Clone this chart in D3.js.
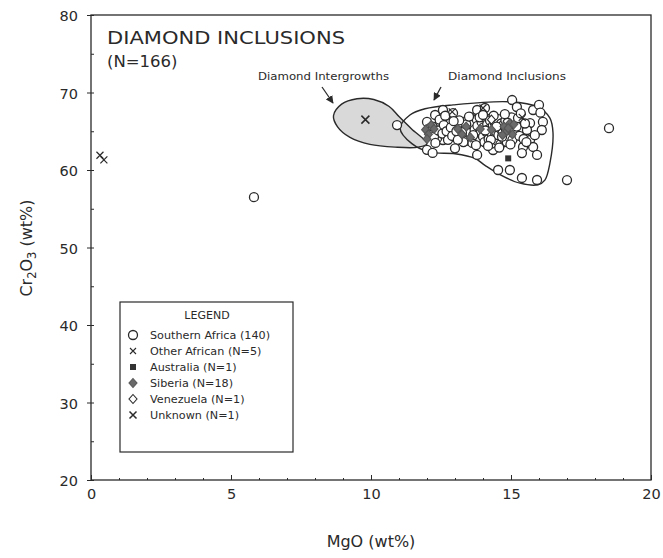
<!DOCTYPE html>
<html><head><meta charset="utf-8">
<script src="https://cdn.jsdelivr.net/npm/d3@7"></script>
<style>body{margin:0;background:#fff}svg{display:block}text{font-family:"DejaVu Sans",sans-serif;fill:#2a2a2a}</style>
</head><body><svg id="c" width="663" height="558"></svg>
<script>
const xTicks=[0,5,10,15,20];
const yTicks=[20,30,40,50,60,70,80];
const southernAfrica=[[5.82,56.5],[18.5,65.4],[17.0,58.7],
[12.29,67.1],[12.57,67.74],[12.93,67.35],[12.82,66.06],[12.46,66.06],[12.36,64.26],[12.57,63.87],[13.0,64.26],[13.54,66.84],[13.79,67.74],[14.07,68.0],[15.04,69.03],[15.21,68.13],[15.79,67.74],[16.14,66.2],[16.1,65.16],[15.68,66.06],[15.57,65.16],[15.68,63.87],[15.43,62.97],[15.79,62.97],[15.39,62.19],[15.93,61.94],[14.36,62.58],[13.79,61.94],[14.54,60.0],[14.96,60.0],[15.39,58.97],[15.93,58.71],[10.93,65.8],[12.0,66.2],[12.1,65.4],[12.36,64.1],[12.0,62.6],[16.0,68.4],
[13.2,65.8],[13.3,65.1],[13.35,64.4],[13.4,66.3],[13.45,63.8],[13.5,65.5],[13.55,64.8],[13.6,66.0],[13.62,63.5],[13.7,65.2],[13.72,64.1],[13.78,66.5],[13.8,65.7],[13.85,64.6],[13.9,63.9],[13.92,65.0],[13.95,66.2],[14.0,64.3],[14.02,65.5],[14.05,63.6],[14.1,66.7],[14.12,64.9],[14.15,65.9],[14.2,64.0],[14.22,65.3],[14.25,66.4],[14.3,63.4],[14.32,64.6],[14.35,65.7],[14.4,64.2],[14.42,66.1],[14.45,65.0],[14.5,63.8],[14.52,66.6],[14.55,64.5],[14.6,65.4],[14.62,63.3],[14.65,66.0],[14.7,64.8],[14.72,65.8],[14.75,64.0],[14.8,66.4],[14.82,65.2],[14.85,63.6],[14.9,64.6],[14.92,65.9],[14.95,64.2],[15.0,65.4],[15.02,66.8],[15.05,63.9],[13.25,64.9],[13.4,65.9],[13.65,64.5],[13.88,66.8],[14.08,65.1],[14.28,63.9],[14.48,65.6],[14.68,64.3],[14.88,66.1],[15.08,64.9],[13.15,66.4],[13.3,63.6],[13.5,66.9],[13.75,63.2],[14.0,67.1],[14.18,63.1],[14.38,67.0],[14.58,62.9],[14.78,67.2],[14.98,63.3],
[12.1,64.9],[12.2,65.6],[12.25,64.3],[12.4,65.1],[12.45,66.5],[12.55,64.7],[12.6,65.8],[12.7,65.0],[12.75,63.9],[12.85,65.5],[12.9,64.4],[12.95,66.3],[13.05,65.0],[13.1,63.9],[12.3,63.5],[12.65,67.0],
[15.2,65.6],[15.3,64.4],[15.25,66.7],[15.45,64.0],[15.35,67.3],[15.5,66.0],[15.55,63.6],[16.05,67.4],[15.85,64.5],[13.0,62.8],[12.2,62.2]];
const otherAfrican=[[0.32,61.9],[0.46,61.3],[14.0,68.0],[12.9,67.5],[15.4,66.8]];
const australia=[[14.9,61.5]];
const siberia=[[11.95,65.2],[12.05,64.6],[12.15,65.8],[12.0,64.0],[12.25,65.3],[13.1,65.3],[13.25,64.6],[13.4,65.6],[13.55,64.2],[14.75,65.6],[14.85,65.0],[14.95,66.0],[15.05,64.6],[14.9,65.4],[15.1,65.9],[14.7,64.5],[13.9,65.3],[14.3,65.2]];
const venezuela=[[14.3,66.5]];
const unknown=[[9.8,66.5]];
const intergrowthField=[[8.66,67.0],[8.95,68.5],[9.5,69.2],[10.1,69.1],[10.65,68.2],[11.0,66.9],[11.45,65.3],[12.0,63.4],[11.7,62.95],[10.86,62.95],[9.96,63.3],[9.25,64.2],[8.8,65.6]];
const inclusionField=[[11.04,65.4],[11.39,67.1],[11.93,67.9],[12.93,68.4],[14.96,68.8],[15.96,68.1],[16.39,66.7],[16.5,64.8],[16.39,60.9],[16.21,58.7],[15.96,58.1],[15.32,58.3],[14.71,59.2],[14.07,60.6],[13.71,61.5],[13.0,62.1],[12.11,62.3],[11.46,63.4]];
const legendItems=["Southern Africa (140)","Other African (N=5)","Australia (N=1)","Siberia (N=18)","Venezuela (N=1)","Unknown (N=1)"];

const svg=d3.select("#c");
const L=91,R=651,T=15,B=480;
const x=d3.scaleLinear().domain([0,20]).range([L,R]);
const y=d3.scaleLinear().domain([20,80]).range([B,T]);
const ink="#2a2a2a";

const line=d3.line().x(d=>x(d[0])).y(d=>y(d[1])).curve(d3.curveCatmullRomClosed.alpha(0.5));
svg.append("path").attr("d",line(intergrowthField)).attr("fill","#d9d9d9").attr("stroke",ink).attr("stroke-width",1.4);
svg.append("path").attr("d",line(inclusionField)).attr("fill","none").attr("stroke",ink).attr("stroke-width",1.4);

const gx=svg.append("g").attr("transform",`translate(0,${B})`).call(d3.axisBottom(x).tickValues(xTicks).tickSize(-5).tickPadding(9).tickFormat(d3.format("d")));
const gy=svg.append("g").attr("transform",`translate(${L},0)`).call(d3.axisLeft(y).tickValues(yTicks).tickSize(4).tickPadding(9).tickFormat(d3.format("d")));
[gx,gy].forEach(g=>{g.select(".domain").remove();g.selectAll("line").attr("stroke",ink);g.selectAll("text").attr("font-size",14.5).attr("fill","#333").style("font-family","'DejaVu Sans',sans-serif");});
gy.selectAll(".tick text").attr("dy","0.4em");
svg.append("g").attr("transform",`translate(0,${B})`).call(d3.axisBottom(x).ticks(20).tickSize(-2).tickFormat("")).call(g=>{g.select(".domain").remove();g.selectAll("line").attr("stroke",ink);});
svg.append("g").attr("transform",`translate(${L},0)`).call(d3.axisLeft(y).ticks(12).tickSize(-3).tickFormat("")).call(g=>{g.select(".domain").remove();g.selectAll("line").attr("stroke",ink);});
svg.append("rect").attr("x",L).attr("y",T).attr("width",R-L).attr("height",B-T).attr("fill","none").attr("stroke",ink).attr("stroke-width",1.3);

function circ(g,px,py){g.append("circle").attr("cx",px).attr("cy",py).attr("r",4.5).attr("fill","#fff").attr("stroke",ink).attr("stroke-width",1.3);}
function cross(g,px,py,s,w){g.append("path").attr("d",`M${px-s},${py-s}L${px+s},${py+s}M${px-s},${py+s}L${px+s},${py-s}`).attr("stroke",ink).attr("stroke-width",w).attr("fill","none");}
function sq(g,px,py){g.append("rect").attr("x",px-3).attr("y",py-3).attr("width",6).attr("height",6).attr("fill","#333");}
function dia(g,px,py,fill){g.append("path").attr("d",`M${px},${py-4.5}L${px+4},${py}L${px},${py+4.5}L${px-4},${py}Z`).attr("fill",fill?"#6a6a6a":"#fff").attr("stroke",fill?"#555":ink).attr("stroke-width",1.1);}

const gp=svg.append("g");
southernAfrica.forEach(d=>circ(gp,x(d[0]),y(d[1])));
siberia.forEach(d=>dia(gp,x(d[0]),y(d[1]),true));
venezuela.forEach(d=>dia(gp,x(d[0]),y(d[1]),false));
australia.forEach(d=>sq(gp,x(d[0]),y(d[1])));
otherAfrican.forEach(d=>cross(gp,x(d[0]),y(d[1]),3.5,1.2));
unknown.forEach(d=>cross(gp,x(d[0]),y(d[1]),4,1.5));

svg.append("text").attr("x",107).attr("y",44).attr("font-size",17.5).attr("textLength",238).attr("lengthAdjust","spacingAndGlyphs").text("DIAMOND INCLUSIONS");
svg.append("text").attr("x",107).attr("y",67).attr("font-size",16.5).text("(N=166)");
svg.append("text").attr("x",258).attr("y",80).attr("font-size",10.5).attr("textLength",131).attr("lengthAdjust","spacingAndGlyphs").text("Diamond Intergrowths");
svg.append("text").attr("x",448).attr("y",80).attr("font-size",10.5).attr("textLength",118).attr("lengthAdjust","spacingAndGlyphs").text("Diamond Inclusions");
svg.append("defs").append("marker").attr("id","ah").attr("viewBox","0 0 10 10").attr("refX",9).attr("refY",5).attr("markerWidth",6).attr("markerHeight",6).attr("orient","auto")
 .append("path").attr("d","M0,0L10,5L0,10Z").attr("fill",ink);
svg.append("line").attr("x1",322).attr("y1",87).attr("x2",333).attr("y2",103).attr("stroke",ink).attr("stroke-width",1.3).attr("marker-end","url(#ah)");
svg.append("line").attr("x1",441).attr("y1",87).attr("x2",434).attr("y2",100).attr("stroke",ink).attr("stroke-width",1.3).attr("marker-end","url(#ah)");

svg.append("text").attr("x",371).attr("y",547).attr("text-anchor","middle").attr("font-size",16).text("MgO (wt%)");
const yt=svg.append("text").attr("transform","translate(32,248) rotate(-90)").attr("text-anchor","middle").attr("font-size",16);
yt.append("tspan").text("Cr");
yt.append("tspan").attr("font-size",11.5).attr("dy",4).text("2");
yt.append("tspan").attr("dy",-4).text("O");
yt.append("tspan").attr("font-size",11.5).attr("dy",4).text("3");
yt.append("tspan").attr("dy",-4).text(" (wt%)");

const lg=svg.append("g");
lg.append("rect").attr("x",120).attr("y",302).attr("width",173).attr("height",150).attr("fill","#fff").attr("stroke",ink).attr("stroke-width",1.2);
lg.append("text").attr("x",207).attr("y",319).attr("text-anchor","middle").attr("font-size",11).text("LEGEND");
legendItems.forEach((t,i)=>{
  const cy=335+i*16;
  lg.append("text").attr("x",150).attr("y",cy+4).attr("font-size",11.2).text(t);
  const sx=133;
  if(i===0)circ(lg,sx,cy);
  else if(i===1)cross(lg,sx,cy,3,1.1);
  else if(i===2)sq(lg,sx,cy);
  else if(i===3)dia(lg,sx,cy,true);
  else if(i===4)dia(lg,sx,cy,false);
  else cross(lg,sx,cy,3.5,1.5);
});
</script></body></html>
